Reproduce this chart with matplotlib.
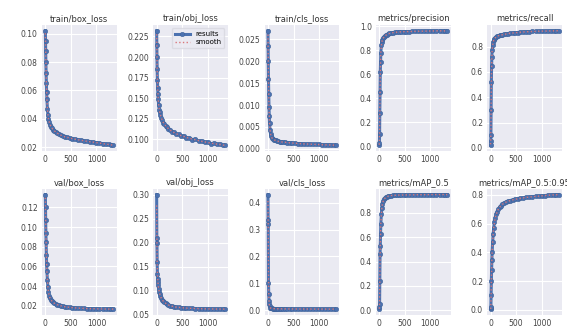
import numpy as np
import matplotlib
matplotlib.use("Agg")
from matplotlib import pyplot as plt

epochs = [0, 3, 6, 10, 15, 20, 25, 30, 40, 50, 60, 75, 90, 110, 130, 150, 175, 200, 230, 260,
          300, 340, 380, 430, 480, 530, 580, 640, 700, 760, 820, 880, 940, 1000, 1060, 1120,
          1180, 1240, 1290, 1330]

train_box = [0.102, 0.095, 0.088, 0.080, 0.072, 0.065, 0.059, 0.054, 0.047, 0.043, 0.040, 0.038,
             0.036, 0.0345, 0.0335, 0.0325, 0.0315, 0.031, 0.030, 0.0293, 0.0285, 0.0279, 0.0274,
             0.0269, 0.0265, 0.0261, 0.0257, 0.0253, 0.0249, 0.0245, 0.0242, 0.0239, 0.0236,
             0.0233, 0.0229, 0.0226, 0.0223, 0.0220, 0.0217, 0.0214]
train_obj = [0.232, 0.215, 0.200, 0.185, 0.172, 0.162, 0.155, 0.149, 0.141, 0.136, 0.133, 0.129,
             0.126, 0.123, 0.120, 0.1185, 0.116, 0.1150, 0.1125, 0.1115, 0.109, 0.1085, 0.106,
             0.1060, 0.1035, 0.1040, 0.1015, 0.1015, 0.0995, 0.1000, 0.0975, 0.0980, 0.0960,
             0.0965, 0.0945, 0.0950, 0.0935, 0.0940, 0.0925, 0.0925]
train_cls = [0.027, 0.0235, 0.020, 0.016, 0.0125, 0.0095, 0.0075, 0.006, 0.0043, 0.0034, 0.0029,
             0.0025, 0.0023, 0.0021, 0.0020, 0.0019, 0.0018, 0.0017, 0.0016, 0.0016, 0.0015,
             0.0015, 0.0014, 0.0014, 0.0013, 0.0013, 0.0012, 0.0012, 0.0011, 0.0011, 0.0011,
             0.0010, 0.0010, 0.0010, 0.0009, 0.0009, 0.0009, 0.0009, 0.0008, 0.0008]
precision = [0.01, 0.03, 0.10, 0.28, 0.45, 0.62, 0.70, 0.78, 0.84, 0.87, 0.885, 0.90, 0.91, 0.92,
             0.925, 0.93, 0.935, 0.94, 0.943, 0.946, 0.948, 0.950, 0.952, 0.953, 0.954, 0.955,
             0.955, 0.956, 0.957, 0.958, 0.958, 0.959, 0.959, 0.960, 0.960, 0.961, 0.962, 0.961,
             0.960, 0.961]
recall = [0.02, 0.05, 0.10, 0.30, 0.52, 0.65, 0.72, 0.77, 0.81, 0.835, 0.85, 0.86, 0.87, 0.875,
          0.88, 0.885, 0.888, 0.89, 0.893, 0.896, 0.899, 0.902, 0.905, 0.907, 0.909, 0.911,
          0.913, 0.915, 0.917, 0.918, 0.919, 0.920, 0.921, 0.922, 0.922, 0.923, 0.924, 0.924,
          0.925, 0.925]
val_box = [0.133, 0.120, 0.107, 0.094, 0.085, 0.072, 0.062, 0.055, 0.046, 0.039, 0.034, 0.030,
           0.028, 0.026, 0.0245, 0.0235, 0.0225, 0.0218, 0.0212, 0.0206, 0.0200, 0.0195, 0.0191,
           0.0187, 0.0184, 0.0181, 0.0179, 0.0177, 0.0175, 0.0173, 0.0172, 0.0171, 0.0170,
           0.0169, 0.0168, 0.0168, 0.0167, 0.0167, 0.0166, 0.0166]
val_obj = [0.300, 0.210, 0.200, 0.160, 0.135, 0.125, 0.118, 0.112, 0.104, 0.098, 0.094, 0.089,
           0.085, 0.081, 0.078, 0.076, 0.074, 0.072, 0.0705, 0.069, 0.068, 0.067, 0.066, 0.0655,
           0.065, 0.0645, 0.064, 0.0637, 0.0634, 0.0631, 0.0629, 0.0627, 0.0625, 0.0624, 0.0623,
           0.0622, 0.0621, 0.0620, 0.0620, 0.0619]
val_cls = [0.43, 0.335, 0.32, 0.10, 0.06, 0.035, 0.022, 0.015, 0.010, 0.008, 0.007, 0.0065, 0.006,
           0.0058, 0.0056, 0.0055, 0.0054, 0.0053, 0.0052, 0.0051, 0.0050, 0.0049, 0.0048, 0.0047,
           0.0047, 0.0046, 0.0046, 0.0045, 0.0045, 0.0044, 0.0044, 0.0043, 0.0043, 0.0042,
           0.0042, 0.0042, 0.0041, 0.0041, 0.0041, 0.0040]
map50 = [0.01, 0.025, 0.05, 0.24, 0.46, 0.53, 0.63, 0.71, 0.79, 0.84, 0.87, 0.895, 0.91, 0.92,
         0.928, 0.933, 0.937, 0.940, 0.942, 0.943, 0.944, 0.945, 0.946, 0.946, 0.947, 0.947,
         0.948, 0.948, 0.948, 0.949, 0.949, 0.949, 0.949, 0.950, 0.950, 0.950, 0.950, 0.950,
         0.950, 0.950]
map5095 = [0.005, 0.01, 0.02, 0.10, 0.20, 0.28, 0.35, 0.40, 0.47, 0.53, 0.57, 0.61, 0.64, 0.665,
           0.685, 0.70, 0.715, 0.725, 0.735, 0.743, 0.750, 0.756, 0.761, 0.766, 0.770, 0.774,
           0.777, 0.780, 0.783, 0.786, 0.788, 0.790, 0.792, 0.794, 0.796, 0.798, 0.800, 0.801,
           0.802, 0.803]

titles = ["train/box_loss", "train/obj_loss", "train/cls_loss", "metrics/precision", "metrics/recall",
          "val/box_loss", "val/obj_loss", "val/cls_loss", "metrics/mAP_0.5", "metrics/mAP_0.5:0.95"]
series = [train_box, train_obj, train_cls, precision, recall,
          val_box, val_obj, val_cls, map50, map5095]


def smooth(y):
    # light smoothing of the read values (neighbour average)
    y = np.asarray(y, dtype=float)
    p = np.pad(y, 1, mode="edge")
    return 0.25 * p[:-2] + 0.5 * p[1:-1] + 0.25 * p[2:]


fig, axs = plt.subplots(2, 5, figsize=(5.67, 3.29), dpi=100)
fig.subplots_adjust(left=0.074, right=0.991, top=0.924, bottom=0.043, wspace=0.49, hspace=0.30)

for i, ax in enumerate(axs.ravel()):
    ax.set_facecolor("#EAEAF2")
    ax.grid(True, color="white", linewidth=0.8)
    ax.set_axisbelow(True)
    for s in ax.spines.values():
        s.set_visible(False)
    ax.plot(epochs, series[i], marker="o", color="#4C72B0", linewidth=2.2,
            markersize=3.3, markeredgewidth=0.3, markeredgecolor="#3d5f94", label="results")
    ax.plot(epochs, smooth(series[i]), ":", color="#D9777A", linewidth=1.0, label="smooth")
    ax.set_title(titles[i], fontsize=6.0, color="#333333", pad=3)
    ax.set_xticks([0, 500, 1000])
    ax.tick_params(labelsize=5.5, colors="#444444", length=0, pad=3)
    if i == 1:
        ax.legend(fontsize=5, loc="upper right", facecolor="#EAEAF2", edgecolor="#d8d8e0",
                  handlelength=2.2, borderpad=0.4, labelspacing=0.3)

axs[0, 1].set_yticks([0.100, 0.125, 0.150, 0.175, 0.200, 0.225])
axs[0, 3].set_yticks([0.0, 0.2, 0.4, 0.6, 0.8, 1.0])

plt.savefig("out.png", dpi=100)
